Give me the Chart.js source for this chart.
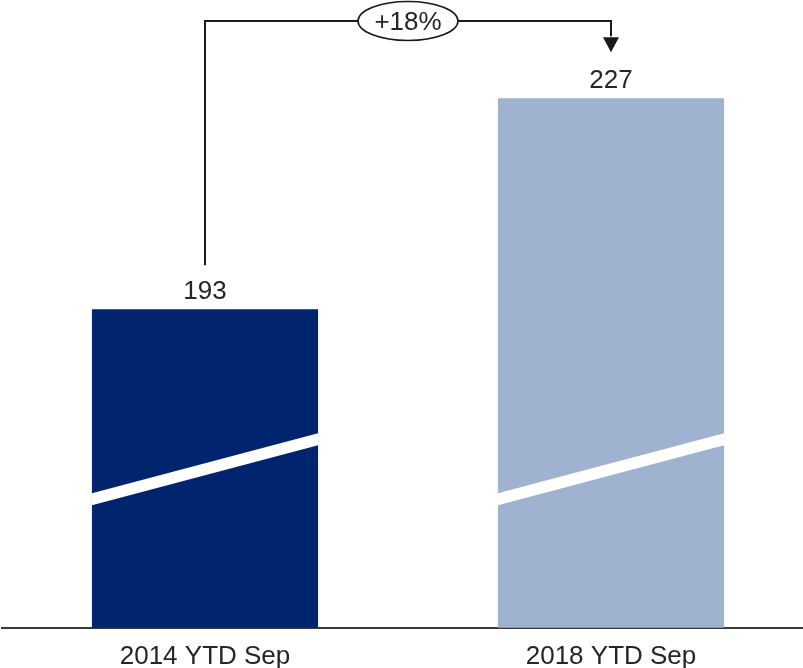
<!DOCTYPE html>
<html>
<head>
<meta charset="utf-8">
<script src="https://cdn.jsdelivr.net/npm/chart.js@4"></script>
<style>
  html, body { margin: 0; padding: 0; overflow: hidden; background: #fff; }
  #wrap { position: relative; width: 816px; height: 686px; }
</style>
</head>
<body>
<div id="wrap"><canvas id="myChart"></canvas></div>
<script>
// data
var categorias = ['2014 YTD Sep', '2018 YTD Sep'];
var valores = [193, 227];
var colores = ['#00256E', '#9FB2D0'];
var cambio = '+18%';
// broken axis: the scale does not start at zero
var ejeMin = 141.7;
var ejeMax = 239.6;

var fuente = "'Liberation Sans', Arial, sans-serif";

// axis-break stripe, value labels and growth arrow
var etiquetasPlugin = {
    id: 'etiquetas',
    afterDraw: function (chart) {
        var ctx = chart.ctx;
        var meta = chart.getDatasetMeta(0);
        var base = chart.scales.y.getPixelForValue(ejeMin);
        ctx.save();

        // white diagonal stripe across each bar
        ctx.fillStyle = '#ffffff';
        meta.data.forEach(function (bar) {
            var x0 = bar.x - bar.width / 2;
            var x1 = bar.x + bar.width / 2;
            ctx.beginPath();
            ctx.moveTo(x0, base - 134.5);
            ctx.lineTo(x1, base - 194.5);
            ctx.lineTo(x1, base - 182.5);
            ctx.lineTo(x0, base - 122.5);
            ctx.closePath();
            ctx.fill();
        });

        ctx.font = '26px ' + fuente;
        ctx.fillStyle = '#262626';
        ctx.textAlign = 'center';
        ctx.textBaseline = 'alphabetic';
        meta.data.forEach(function (bar, i) {
            ctx.fillText(String(valores[i]), bar.x, bar.y - 10);
        });

        var a = meta.data[0], b = meta.data[1];
        var yTop = chart.chartArea.top + 1;
        var xm = (a.x + b.x) / 2;
        ctx.strokeStyle = '#1a1a1a';
        ctx.lineWidth = 2;
        ctx.beginPath();
        ctx.moveTo(a.x, a.y - 44);
        ctx.lineTo(a.x, yTop);
        ctx.lineTo(b.x, yTop);
        ctx.lineTo(b.x, b.y - 62);
        ctx.stroke();

        ctx.fillStyle = '#1a1a1a';
        ctx.beginPath();
        ctx.moveTo(b.x - 8, b.y - 61);
        ctx.lineTo(b.x + 8, b.y - 61);
        ctx.lineTo(b.x, b.y - 46);
        ctx.closePath();
        ctx.fill();

        ctx.fillStyle = '#ffffff';
        ctx.lineWidth = 1.6;
        ctx.beginPath();
        ctx.ellipse(xm, yTop, 50, 19.5, 0, 0, Math.PI * 2);
        ctx.fill();
        ctx.stroke();

        ctx.fillStyle = '#262626';
        ctx.textBaseline = 'alphabetic';
        ctx.fillText(cambio, xm, yTop + 9);
        ctx.restore();
    }
};

var ctx = document.getElementById('myChart');

var myChart = new Chart(ctx, {
    type: 'bar',
    data: {
        labels: categorias,
        datasets: [{
            data: valores,
            backgroundColor: colores,
            borderWidth: 0,
            categoryPercentage: 1,
            barPercentage: 0.557
        }]
    },
    options: {
        responsive: true,
        maintainAspectRatio: false,
        animation: false,
        layout: { padding: { top: 20, left: 2, right: 2, bottom: 0 } },
        plugins: {
            legend: { display: false },
            tooltip: { enabled: false }
        },
        scales: {
            x: {
                grid: { display: false, drawTicks: false },
                border: { display: true, color: '#3a3a3a', width: 2 },
                ticks: {
                    color: '#262626',
                    padding: 13.5,
                    font: { family: fuente, size: 26 }
                }
            },
            y: {
                display: false,
                min: ejeMin,
                max: ejeMax
            }
        }
    },
    plugins: [etiquetasPlugin]
});
</script>
</body>
</html>
